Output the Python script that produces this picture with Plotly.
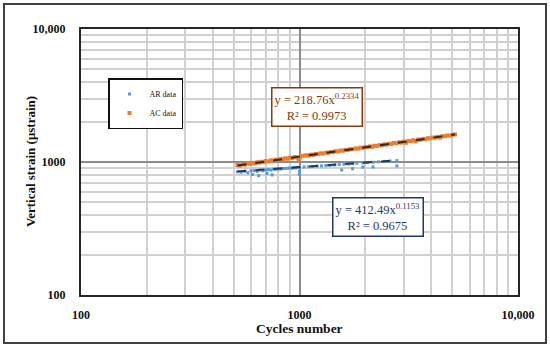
import plotly.graph_objects as go

# ---- data ----
ar_cycles = [520, 540, 560, 580, 600, 610, 620, 640, 650, 660,
             680, 700, 710, 720, 740, 750, 760, 780, 800, 820,
             840, 860, 880, 900, 920, 940, 960, 980, 1000, 1000,
             1000, 1050, 1100, 1150, 1200, 1260, 1320, 1380, 1450, 1520,
             1560, 1600, 1680, 1750, 1750, 1830, 1950, 1950, 2050, 2170,
             2170, 2300, 2450, 2600, 2790, 2790]
ar_strain = [845, 838, 852, 830, 858, 805, 862, 850, 790, 870,
             860, 872, 820, 878, 870, 800, 884, 880, 888, 885,
             892, 894, 898, 900, 898, 905, 902, 910, 912, 850,
             805, 918, 922, 926, 930, 935, 940, 945, 950, 956,
             870, 962, 966, 972, 890, 978, 985, 915, 990, 996,
             918, 1003, 1010, 1016, 1025, 935]

ac_cycles = [520, 535, 550, 565, 580, 595, 610, 625, 640, 655,
             670, 685, 700, 720, 740, 760, 780, 800, 820, 840,
             860, 880, 900, 925, 950, 975, 990, 1000, 1025, 1050,
             1080, 1100, 1130, 1160, 1190, 1220, 1250, 1280, 1320, 1350,
             1390, 1420, 1460, 1500, 1540, 1580, 1620, 1660, 1700, 1750,
             1800, 1850, 1900, 1950, 2000, 2050, 2100, 2150, 2200, 2260,
             2320, 2380, 2440, 2500, 2570, 2630, 2700, 2770, 2850, 2920,
             3000, 3070, 3150, 3230, 3320, 3400, 3490, 3580, 3680, 3770,
             3870, 3970, 4070, 4180, 4290, 4400, 4510, 4630, 4750, 4870,
             5000, 5150]
ac_strain = [948, 940, 962, 955, 975, 968, 985, 976, 996, 990,
             1004, 998, 1018, 1010, 1030, 1022, 1043, 1036, 1055, 1048,
             1066, 1058, 1078, 1072, 1090, 1080, 1040, 1072, 1110, 1116,
             1124, 1118, 1136, 1132, 1150, 1146, 1162, 1158, 1176, 1172,
             1190, 1186, 1205, 1200, 1220, 1215, 1233, 1230, 1248, 1245,
             1264, 1260, 1280, 1276, 1296, 1292, 1310, 1300, 1325, 1320,
             1340, 1336, 1356, 1352, 1372, 1366, 1390, 1384, 1406, 1400,
             1424, 1395, 1440, 1436, 1457, 1430, 1475, 1472, 1492, 1488,
             1510, 1506, 1528, 1524, 1546, 1525, 1564, 1562, 1582, 1580,
             1600, 1612]

# power-law trendline coefficients shown on the chart
ar_coef, ar_exp, ar_r2 = 412.49, 0.1153, 0.9675
ac_coef, ac_exp, ac_r2 = 218.76, 0.2334, 0.9973

axis_tickvals = [100, 1000, 10000]
axis_ticktext = ["100", "1000", "10,000"]

series_names = ["AR data", "AC data"]

# ---- styling ----
FONT = "Liberation Serif"
AR_COLOR = "#5B9BD5"
AC_COLOR = "#ED7D31"
AR_TREND = "#1F3864"
AC_TREND = "#2E2A26"
AR_TEXT = "#1F3864"
AC_TEXT = "#843C0C"

fig = go.Figure()

fig.add_trace(go.Scatter(x=ar_cycles, y=ar_strain, mode="markers", name=series_names[0],
                         marker=dict(color=AR_COLOR, size=3, symbol="square")))
fig.add_trace(go.Scatter(x=ac_cycles, y=ac_strain, mode="markers", name=series_names[1],
                         marker=dict(color=AC_COLOR, size=4, symbol="square")))

ar_tx = [min(ar_cycles), max(ar_cycles)]
ac_tx = [min(ac_cycles), max(ac_cycles)]
fig.add_trace(go.Scatter(x=ar_tx, y=[ar_coef * v ** ar_exp for v in ar_tx], mode="lines",
                         showlegend=False, line=dict(color=AR_TREND, width=2, dash="dash")))
fig.add_trace(go.Scatter(x=ac_tx, y=[ac_coef * v ** ac_exp for v in ac_tx], mode="lines",
                         showlegend=False, line=dict(color=AC_TREND, width=2, dash="dash")))

axis_common = dict(
    type="log", range=[2, 4], automargin=False,
    tickvals=axis_tickvals, ticktext=axis_ticktext,
    showgrid=True, gridcolor="#8C8C8C", gridwidth=1.5,
    minor=dict(dtick="D1", showgrid=True, gridcolor="#D0D0D0", gridwidth=1.5, ticks=""),
    showline=True, linecolor="#262626", linewidth=2, mirror=True,
    ticks="outside", tickcolor="rgba(0,0,0,0)",
    tickfont=dict(family=FONT, size=12, color="#111111", weight="bold"),
    zeroline=False,
)

fig.update_xaxes(**axis_common, ticklen=8)
fig.update_yaxes(**axis_common, ticklen=11)

# axis titles placed in the margins
fig.add_annotation(xref="paper", yref="paper", x=0.5, y=-33 / 266,
                   xanchor="center", yanchor="middle",
                   text="<b>Cycles number</b>", showarrow=False,
                   font=dict(family=FONT, size=13.5, color="#111111"))
fig.add_annotation(xref="paper", yref="paper", x=-51 / 437, y=0.5,
                   xanchor="center", yanchor="middle",
                   text="<b>Vertical strain (μstrain)</b>", showarrow=False, textangle=-90,
                   font=dict(family=FONT, size=13, color="#111111"))

fig.add_annotation(xref="paper", yref="paper", x=(317 - 81) / 437, y=(295 - 107) / 266,
                   xanchor="center", yanchor="middle",
                   text="y = %.2fx<sup>%.4f</sup><br>R² = %.4f" % (ac_coef, ac_exp, ac_r2),
                   showarrow=False, font=dict(family=FONT, size=12.5, color=AC_TEXT),
                   bordercolor=AC_TEXT, borderwidth=1.5, borderpad=2, bgcolor="white", align="center")
fig.add_annotation(xref="paper", yref="paper", x=(378 - 81) / 437, y=(295 - 217) / 266,
                   xanchor="center", yanchor="middle",
                   text="y = %.2fx<sup>%.4f</sup><br>R² = %.4f" % (ar_coef, ar_exp, ar_r2),
                   showarrow=False, font=dict(family=FONT, size=12.5, color=AR_TEXT),
                   bordercolor=AR_TEXT, borderwidth=1.5, borderpad=2, bgcolor="white", align="center")

# outer frame of the figure
fig.add_shape(type="rect", xref="paper", yref="paper",
              x0=-77 / 437, x1=1 + 28 / 437, y0=-48 / 266, y1=1 + 25 / 266,
              line=dict(color="#404040", width=2), fillcolor="rgba(0,0,0,0)", layer="above")

fig.update_layout(
    width=550, height=346,
    margin=dict(l=81, r=32, t=29, b=51, autoexpand=False),
    paper_bgcolor="white", plot_bgcolor="white",
    showlegend=True,
    legend=dict(x=(108 - 81) / 437, y=(295 - 78) / 266, xanchor="left", yanchor="top",
                bordercolor="#111111", borderwidth=1.5, bgcolor="white",
                font=dict(family=FONT, size=8, color="#111111"),
                itemwidth=30, tracegroupgap=0),
)

fig.write_html("out.html", config={"displayModeBar": False},
               post_script="document.body.style.margin='0';document.body.style.overflow='hidden';")
